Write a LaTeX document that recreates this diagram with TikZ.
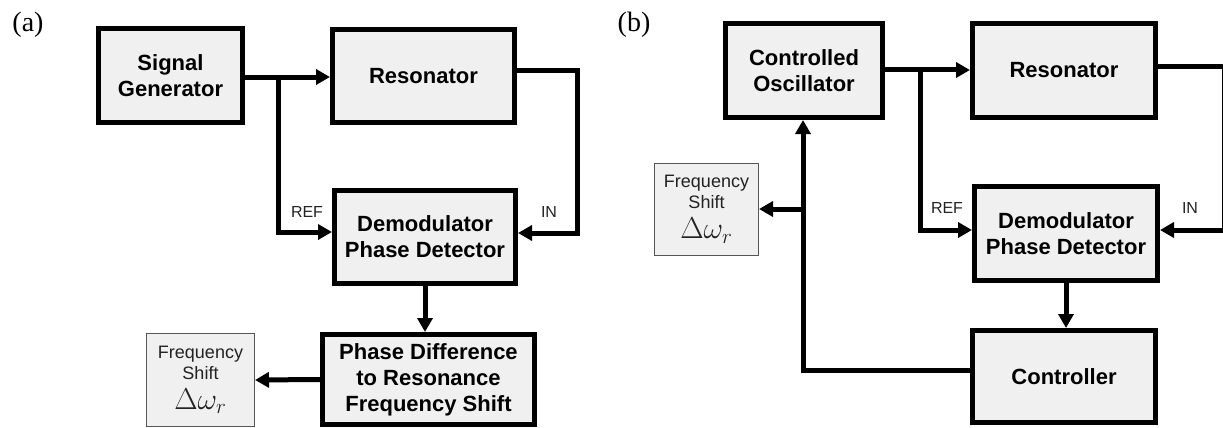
\documentclass[tikz,border=0pt]{standalone}
\usepackage[no-math]{fontspec}
\newfontfamily\hv{Liberation Sans}
\newfontfamily\lblfont{Liberation Serif}
\usetikzlibrary{arrows.meta}
\definecolor{boxfill}{HTML}{F0F0F0}
\definecolor{fsline}{HTML}{555555}
\definecolor{txtgray}{HTML}{222222}
\tikzset{
 blk/.style={draw=black, line width=5pt, fill=boxfill, inner sep=0pt, align=center, font=\hv\bfseries\fontsize{22}{26}\selectfont},
 fsbox/.style={draw=fsline, line width=1pt, fill=boxfill, inner sep=0pt, align=center, font=\hv\fontsize{18}{21}\selectfont, text=txtgray},
 conn/.style={line width=5pt, -{Triangle[length=14pt,width=15pt]}},
 sig/.style={font=\hv\fontsize{16}{18}\selectfont, text=txtgray, inner sep=0pt},
 panel/.style={font=\lblfont\fontsize{28}{30}\selectfont, inner sep=0pt},
}
\newcommand{\dw}{\scalebox{1.75}{$\Delta\omega_r$}}
\begin{document}
\begin{tikzpicture}[x=1pt,y=-1pt]
\useasboundingbox (0,0) rectangle (1223,428);
% ---------- panel (a)
\node[panel] (la) at (28,25) {(a)};
\node[blk, minimum width=144pt, minimum height=94pt] (sg) at (170.5,75.5) {Signal\\Generator};
\node[blk, minimum width=182pt, minimum height=93pt] (res) at (423.5,76) {Resonator};
\node[blk, minimum width=181pt, minimum height=93pt] (dem) at (425,237) {Demodulator\\Phase Detector};
\node[blk, minimum width=212pt, minimum height=90pt] (pd) at (428.5,379.5) {Phase Difference\\to Resonance\\Frequency Shift};
\node[fsbox, minimum width=108pt, minimum height=93pt] (fs) at (200.5,380) {Frequency\\Shift\\[9pt]\dw};
\node[sig] (refa) at (307,212) {REF};
\node[sig] (ina) at (549,212) {IN};
\coordinate (a1) at (278,77);
\coordinate (a2) at (278,232);
\coordinate (a3) at (577,71);
\coordinate (a4) at (577,233);
\draw[conn] (sg.east |- a1) -- (res.west |- a1);
\draw[conn] (a1) -- (a2) -- (dem.west |- a2);
\draw[conn] (res.east |- a3) -- (a3) -- (a4) -- (dem.east |- a4);
\draw[conn] (dem.south) -- (dem.south |- pd.north);
\draw[conn] (pd.west) -- (fs.east);
% ---------- panel (b)
\node[panel] (lb) at (634,25) {(b)};
\node[blk, minimum width=157pt, minimum height=94pt] (osc) at (804,70.5) {Controlled\\Oscillator};
\node[blk, minimum width=183pt, minimum height=94pt] (resb) at (1064,70.5) {Resonator};
\node[blk, minimum width=183pt, minimum height=94pt] (demb) at (1066,233.5) {Demodulator\\Phase Detector};
\node[blk, minimum width=183pt, minimum height=92pt] (ctrl) at (1064,376.5) {Controller};
\node[fsbox, minimum width=104pt, minimum height=92pt] (fsb) at (706.5,209.5) {Frequency\\Shift\\[9pt]\dw};
\node[sig] (refb) at (947,208) {REF};
\node[sig] (inb) at (1190,208) {IN};
\coordinate (b1) at (920,70);
\coordinate (b2) at (920,230);
\coordinate (b3) at (1224,67);
\coordinate (b4) at (1224,230);
\coordinate (b5) at (803,370);
\coordinate (b6) at (803,209);
\draw[conn] (osc.east |- b1) -- (resb.west |- b1);
\draw[conn] (b1) -- (b2) -- (demb.west |- b2);
\draw[conn] (resb.east |- b3) -- (b3) -- (b4) -- (demb.east |- b4);
\draw[conn] (demb.south) -- (demb.south |- ctrl.north);
\draw[conn] (ctrl.west |- b5) -- (b5) -- (osc.south -| b5);
\draw[conn] (b6) -- (fsb.east |- b6);
\end{tikzpicture}
\end{document}
